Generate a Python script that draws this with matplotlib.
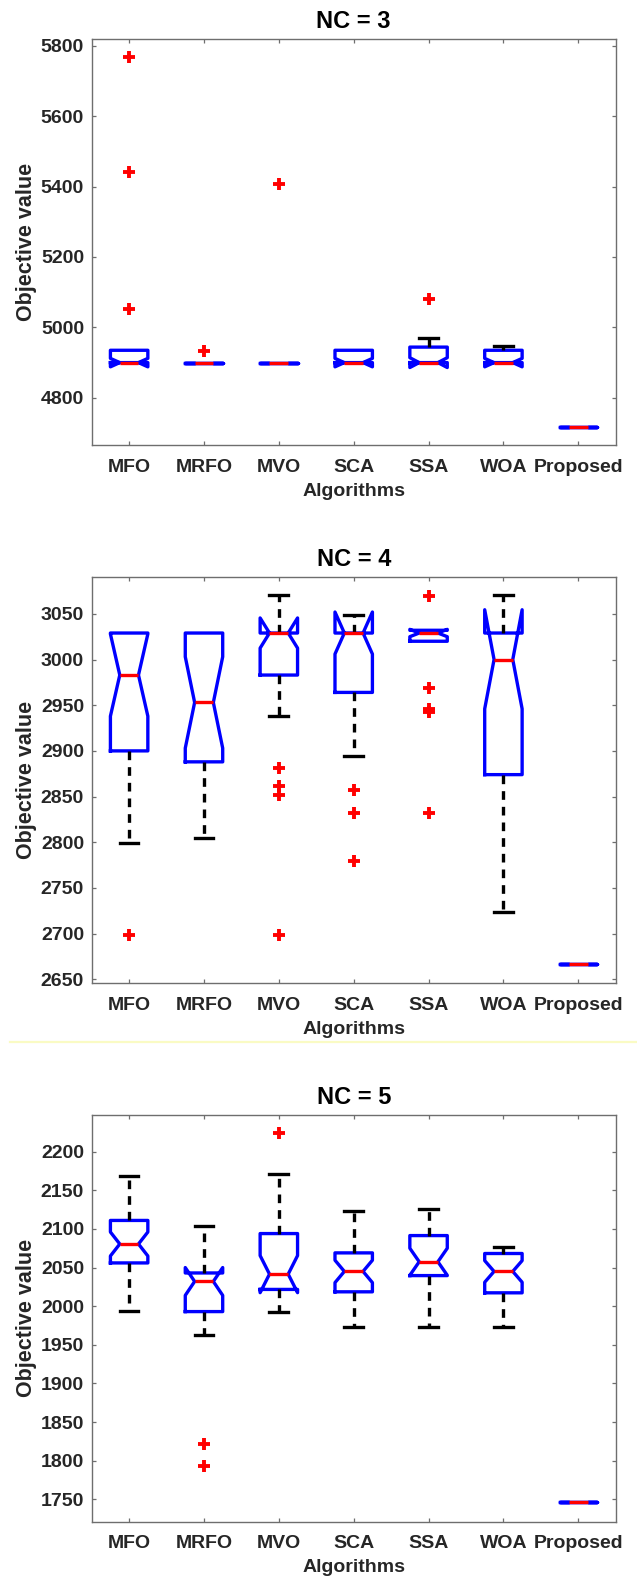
import numpy as np
import matplotlib
matplotlib.use("Agg")
import matplotlib.pyplot as plt
from matplotlib.lines import Line2D

plt.rcParams['font.family'] = ['Liberation Sans', 'DejaVu Sans']
plt.rcParams['font.weight'] = 'bold'

algorithms = ["MFO", "MRFO", "MVO", "SCA", "SSA", "WOA", "Proposed"]

# ---- NC = 3 ----
nc3_med = [4900, 4900, 4900, 4900, 4900, 4900, 4718]
nc3_q1 = [4900, 4900, 4900, 4900, 4900, 4900, 4718]
nc3_q3 = [4935, 4900, 4900, 4935, 4944, 4935, 4718]
nc3_cilo = [4888, 4900, 4900, 4888, 4886, 4888, 4718]
nc3_cihi = [4912, 4900, 4900, 4912, 4914, 4912, 4718]
nc3_whislo = [4900, 4900, 4900, 4900, 4900, 4900, 4718]
nc3_whishi = [4935, 4900, 4900, 4935, 4970, 4948, 4718]
nc3_fliers = [[5767, 5441, 5051], [4934], [5406], [], [5080], [], []]

# ---- NC = 4 ----
nc4_med = [2983, 2953, 3029, 3029, 3029, 3000, 2667]
nc4_q1 = [2900, 2888, 2983, 2964, 3020, 2874, 2667]
nc4_q3 = [3029, 3029, 3029, 3029, 3032, 3029, 2667]
nc4_cilo = [2938, 2903, 3012.5, 3006, 3025, 2946, 2667]
nc4_cihi = [3028, 3003, 3045.5, 3052, 3033, 3054.5, 2667]
nc4_whislo = [2799, 2805, 2938, 2894, 3020, 2724, 2667]
nc4_whishi = [3029, 3029, 3071, 3049, 3032, 3071, 2667]
nc4_fliers = [[2698], [], [2881, 2862, 2852, 2698], [2857, 2832, 2780],
              [3070, 2969, 2946, 2943, 2832], [], []]

# ---- NC = 5 ----
nc5_med = [2080.5, 2032, 2041.5, 2045, 2057.5, 2045, 1746.6]
nc5_q1 = [2056, 1993, 2021.7, 2018.6, 2039.6, 2017.3, 1746.6]
nc5_q3 = [2111, 2043, 2094, 2069, 2091.4, 2068.2, 1746.6]
nc5_cilo = [2065, 2014, 2017.5, 2030.5, 2040, 2031, 1746.6]
nc5_cihi = [2096, 2050, 2065.5, 2059.5, 2075, 2059, 1746.6]
nc5_whislo = [1993.5, 1963, 1993, 1972.6, 1972.6, 1972.6, 1746.6]
nc5_whishi = [2168, 2103.5, 2171, 2123.6, 2126.3, 2077, 1746.6]
nc5_fliers = [[], [1821.5, 1792.5], [2224.6], [], [], [], []]

panels = [
    dict(title="NC = 3", med=nc3_med, q1=nc3_q1, q3=nc3_q3, cilo=nc3_cilo,
         cihi=nc3_cihi, whislo=nc3_whislo, whishi=nc3_whishi,
         fliers=nc3_fliers, yticks=np.arange(4800, 5801, 200),
         ylim=(4666, 5819)),
    dict(title="NC = 4", med=nc4_med, q1=nc4_q1, q3=nc4_q3, cilo=nc4_cilo,
         cihi=nc4_cihi, whislo=nc4_whislo, whishi=nc4_whishi,
         fliers=nc4_fliers, yticks=np.arange(2650, 3051, 50),
         ylim=(2645.6, 3090)),
    dict(title="NC = 5", med=nc5_med, q1=nc5_q1, q3=nc5_q3, cilo=nc5_cilo,
         cihi=nc5_cihi, whislo=nc5_whislo, whishi=nc5_whishi,
         fliers=nc5_fliers, yticks=np.arange(1750, 2201, 50),
         ylim=(1721, 2247.5)),
]

W, H = 637, 1581
fig = plt.figure(figsize=(W / 100, H / 100), dpi=100)

# axes boxes in pixels: (left, top, right, bottom)
boxes_px = [(91.7, 39.0, 615.7, 445.0),
            (91.7, 577.3, 615.7, 983.3),
            (91.7, 1115.0, 615.7, 1521.7)]

text_col = '#262626'
axis_col = '#6e6e6e'

for p, (l, t, r, b) in zip(panels, boxes_px):
    ax = fig.add_axes([l / W, 1 - b / H, (r - l) / W, (b - t) / H])
    stats = []
    for i, name in enumerate(algorithms):
        stats.append(dict(label=name, med=p['med'][i], q1=p['q1'][i],
                          q3=p['q3'][i], cilo=p['cilo'][i],
                          cihi=p['cihi'][i], whislo=p['whislo'][i],
                          whishi=p['whishi'][i],
                          fliers=np.array(p['fliers'][i], dtype=float)))
    art = ax.bxp(stats, positions=np.arange(1, 8), widths=0.5,
                 shownotches=True, showfliers=True,
                 boxprops=dict(color='#0000ff', linewidth=2.4),
                 medianprops=dict(color='#ff0000', linewidth=2.4),
                 whiskerprops=dict(color='black', linewidth=2.4,
                                   linestyle=(0, (2.6, 2.1))),
                 capprops=dict(color='black', linewidth=2.4),
                 flierprops=dict(marker='+', markersize=8,
                                 markeredgewidth=2.8,
                                 markeredgecolor='#ff0000',
                                 linestyle='none'))
    # caps of zero-length whiskers sit on the box edge; hide them
    for i, s in enumerate(stats):
        if s['whislo'] >= s['q1']:
            art['caps'][2 * i].set_visible(False)
        if s['whishi'] <= s['q3']:
            art['caps'][2 * i + 1].set_visible(False)

    ax.set_xlim(0.5, 7.5)
    ax.set_ylim(*p['ylim'])
    ax.set_yticks(p['yticks'])
    ax.set_xticks(np.arange(1, 8))
    ax.set_xticklabels(algorithms)
    for sp in ax.spines.values():
        sp.set_color(axis_col)
        sp.set_linewidth(1.0)
    ax.tick_params(axis='both', direction='in', length=2.8, width=0.9,
                   color=axis_col, labelcolor=text_col, labelsize=14,
                   top=True, right=True)
    ax.tick_params(axis='x', pad=9.8)
    ax.tick_params(axis='y', pad=5.5)
    for lab in ax.get_xticklabels() + ax.get_yticklabels():
        lab.set_fontweight('bold')
    ax.set_title(p['title'], fontsize=17, fontweight='bold', color='black',
                 pad=7.8)
    ax.set_xlabel("Algorithms", fontsize=14, fontweight='bold',
                  color=text_col, labelpad=5)
    ax.set_ylabel("Objective value", fontsize=15.5, fontweight='bold',
                  color=text_col, labelpad=3)

# thin pale separator between the second and third panels
fig.add_artist(Line2D([10 / W, 1.0], [1 - 1042 / H, 1 - 1042 / H],
                      transform=fig.transFigure, color='#fafbc4',
                      linewidth=1.6))

fig.savefig("out.png", dpi=100, facecolor='white')
